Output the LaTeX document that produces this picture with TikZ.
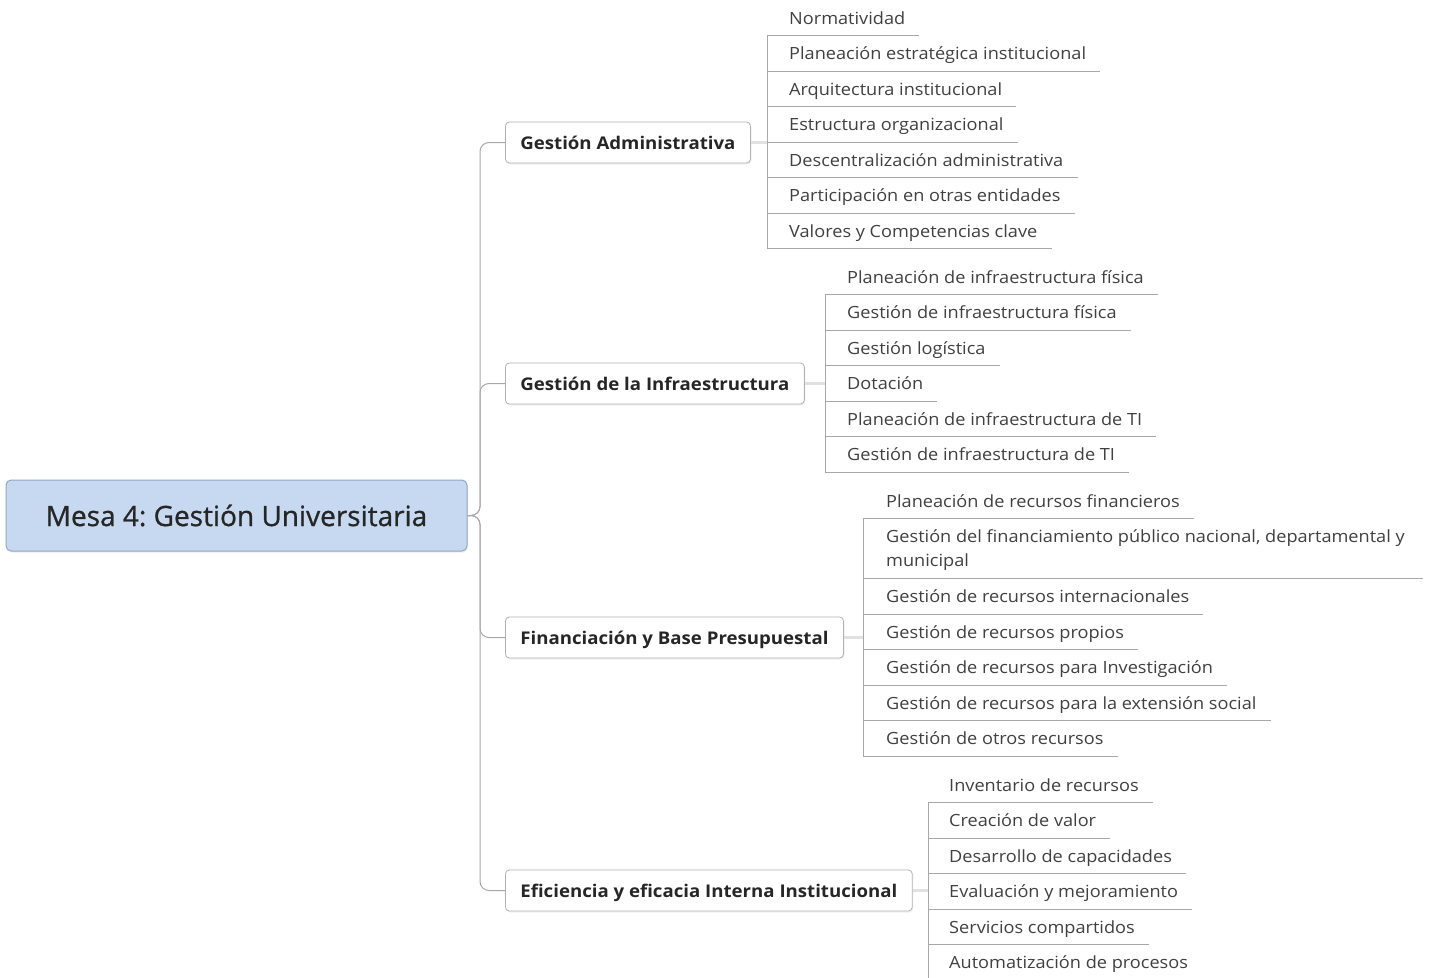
\documentclass[tikz,border=0pt]{standalone}
\usepackage{fontspec}
\setmainfont{Open Sans}
\newfontfamily\leaffont[FakeStretch=1.08]{Open Sans}
\newfontfamily\topicfont[FakeStretch=1.065]{Open Sans}
\newfontfamily\rootfont[FakeBold=0.8]{Open Sans}
\usepackage{tikz}
\usetikzlibrary{positioning,calc,shadows}
\definecolor{rootblue}{HTML}{C6D9F0}
\definecolor{rootedge}{HTML}{8EA8C6}
\definecolor{boxedge}{HTML}{B2B2B2}
\definecolor{linegray}{HTML}{A8A8A8}
\definecolor{inkgray}{HTML}{404040}
\frenchspacing

\begin{document}
\begin{tikzpicture}[x=1pt,y=-1pt,
    rootbox/.style={rectangle,rounded corners=5pt,fill=rootblue,draw=rootedge,line width=1pt,minimum width=461pt,minimum height=71pt,text=black!85,font=\rootfont\fontsize{28}{32}\selectfont,drop shadow={opacity=0.15,shadow xshift=1pt,shadow yshift=-1.5pt}},
    topic/.style={rectangle,anchor=west,rounded corners=4pt,fill=white,draw=boxedge,line width=0.8pt,inner xsep=15pt,minimum height=41pt,text height=15pt,text depth=2pt,text=black!85,font=\topicfont\bfseries\fontsize{17.5}{20}\selectfont,drop shadow={opacity=0.12,shadow xshift=1pt,shadow yshift=-1.5pt}},
    leaf/.style={anchor=west,inner xsep=0pt,inner ysep=0pt,minimum height=35.5pt,text height=14pt,text depth=2pt,align=left,text=inkgray,font=\leaffont\fontsize{16.8}{24}\selectfont},
    trunk/.style={draw=linegray,line width=1pt,rounded corners=9pt},
    under/.style={draw=linegray,line width=1pt},
    link/.style={draw=linegray!35,line width=2.5pt}]

    \useasboundingbox (0,0) rectangle (1429,977);

    % centre
    \node[rootbox] (root) at (236.5,515.5) {Mesa 4: Gestión Universitaria};

    % ramas
    \node[topic] (ga) at (505,142.5) {Gestión Administrativa};
    \node[topic] (gi) at (505,383.5) {Gestión de la Infraestructura};
    \node[topic] (fb) at (505,637.5) {Financiación y Base Presupuestal};
    \node[topic] (ef) at (505,890.5) {Eficiencia y eficacia Interna Institucional};

    \coordinate (tr) at (480,0);
    \coordinate (sa) at (767,0);
    \coordinate (si) at (825,0);
    \coordinate (sf) at (863,0);
    \coordinate (se) at (928,0);

    % Gestion Administrativa
    \node[leaf] (a1) at (789,18) {Normatividad};
    \node[leaf] (a2) at (789,53.5) {Planeación estratégica institucional};
    \node[leaf] (a3) at (789,89) {Arquitectura institucional};
    \node[leaf] (a4) at (789,124.5) {Estructura organizacional};
    \node[leaf] (a5) at (789,160) {Descentralización administrativa};
    \node[leaf] (a6) at (789,195.5) {Participación en otras entidades};
    \node[leaf] (a7) at (789,231) {Valores y Competencias clave};

    % Gestion de la Infraestructura
    \node[leaf] (i1) at (847,277) {Planeación de infraestructura física};
    \node[leaf] (i2) at (847,312.5) {Gestión de infraestructura física};
    \node[leaf] (i3) at (847,348) {Gestión logística};
    \node[leaf] (i4) at (847,383.5) {Dotación};
    \node[leaf] (i5) at (847,419) {Planeación de infraestructura de TI};
    \node[leaf] (i6) at (847,454.5) {Gestión de infraestructura de TI};

    % Financiacion y Base Presupuestal
    \node[leaf] (f1) at (886,501) {Planeación de recursos financieros};
    \node[leaf,minimum height=59pt,text height=38pt] (f2) at (886,548.5) {Gestión del financiamiento público nacional, departamental y\\municipal};
    \node[leaf] (f3) at (886,596.5) {Gestión de recursos internacionales};
    \node[leaf] (f4) at (886,632) {Gestión de recursos propios};
    \node[leaf] (f5) at (886,667.5) {Gestión de recursos para Investigación};
    \node[leaf] (f6) at (886,703) {Gestión de recursos para la extensión social};
    \node[leaf] (f7) at (886,738.5) {Gestión de otros recursos};

    % Eficiencia y eficacia
    \node[leaf] (e1) at (949,785) {Inventario de recursos};
    \node[leaf] (e2) at (949,820.5) {Creación de valor};
    \node[leaf] (e3) at (949,856) {Desarrollo de capacidades};
    \node[leaf] (e4) at (949,891.5) {Evaluación y mejoramiento};
    \node[leaf] (e5) at (949,927) {Servicios compartidos};
    \node[leaf] (e6) at (949,962.5) {Automatización de procesos};

    % tronco
    \draw[trunk] (root.east) -- (tr |- root.east) -- (tr |- ga.west) -- (ga.west);
    \draw[trunk] (root.east) -- (tr |- root.east) -- (tr |- gi.west) -- (gi.west);
    \draw[trunk] (root.east) -- (tr |- root.east) -- (tr |- fb.west) -- (fb.west);
    \draw[trunk] (root.east) -- (tr |- root.east) -- (tr |- ef.west) -- (ef.west);

    % enlaces rama - hojas
    \draw[link] (ga.east) -- (sa |- ga.east);
    \draw[link] (gi.east) -- (si |- gi.east);
    \draw[link] (fb.east) -- (sf |- fb.east);
    \draw[link] (ef.east) -- (se |- ef.east);

    \draw[under] (sa |- a1.south) -- (sa |- a7.south);
    \draw[under] (si |- i1.south) -- (si |- i6.south);
    \draw[under] (sf |- f1.south) -- (sf |- f7.south);
    \draw[under] (se |- e1.south) -- (se |- e6.south);

    \draw[under] (sa |- a1.south) -- ([xshift=14pt]a1.south east);
    \draw[under] (sa |- a2.south) -- ([xshift=14pt]a2.south east);
    \draw[under] (sa |- a3.south) -- ([xshift=14pt]a3.south east);
    \draw[under] (sa |- a4.south) -- ([xshift=14pt]a4.south east);
    \draw[under] (sa |- a5.south) -- ([xshift=14pt]a5.south east);
    \draw[under] (sa |- a6.south) -- ([xshift=14pt]a6.south east);
    \draw[under] (sa |- a7.south) -- ([xshift=14pt]a7.south east);

    \draw[under] (si |- i1.south) -- ([xshift=14pt]i1.south east);
    \draw[under] (si |- i2.south) -- ([xshift=14pt]i2.south east);
    \draw[under] (si |- i3.south) -- ([xshift=14pt]i3.south east);
    \draw[under] (si |- i4.south) -- ([xshift=14pt]i4.south east);
    \draw[under] (si |- i5.south) -- ([xshift=14pt]i5.south east);
    \draw[under] (si |- i6.south) -- ([xshift=14pt]i6.south east);

    \draw[under] (sf |- f1.south) -- ([xshift=14pt]f1.south east);
    \draw[under] (sf |- f2.south) -- ([xshift=18pt]f2.south east);
    \draw[under] (sf |- f3.south) -- ([xshift=14pt]f3.south east);
    \draw[under] (sf |- f4.south) -- ([xshift=14pt]f4.south east);
    \draw[under] (sf |- f5.south) -- ([xshift=14pt]f5.south east);
    \draw[under] (sf |- f6.south) -- ([xshift=14pt]f6.south east);
    \draw[under] (sf |- f7.south) -- ([xshift=14pt]f7.south east);

    \draw[under] (se |- e1.south) -- ([xshift=14pt]e1.south east);
    \draw[under] (se |- e2.south) -- ([xshift=14pt]e2.south east);
    \draw[under] (se |- e3.south) -- ([xshift=14pt]e3.south east);
    \draw[under] (se |- e4.south) -- ([xshift=14pt]e4.south east);
    \draw[under] (se |- e5.south) -- ([xshift=14pt]e5.south east);
    \draw[under] (se |- e6.south) -- ([xshift=14pt]e6.south east);
\end{tikzpicture}
\end{document}
